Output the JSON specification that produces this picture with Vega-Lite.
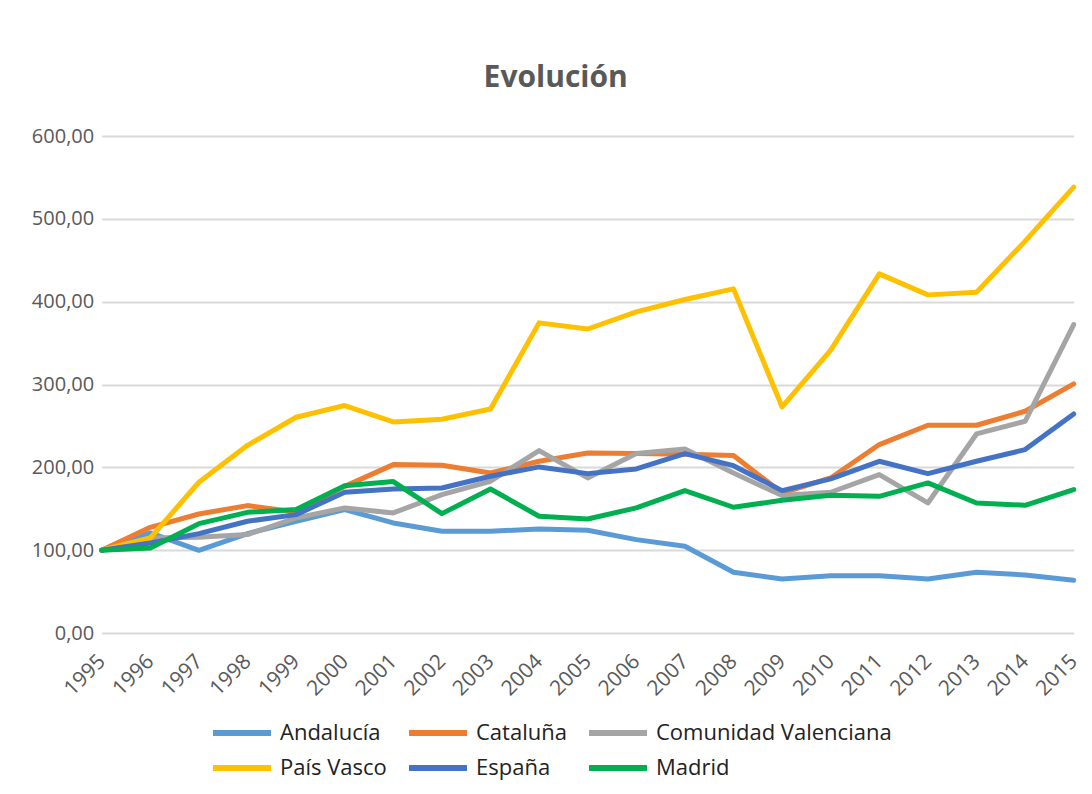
{
  "$schema": "https://vega.github.io/schema/vega-lite/v6.json",
  "width": 972,
  "height": 497,
  "autosize": {"type": "none"},
  "padding": {"left": 101.7, "top": 136, "right": 18.3, "bottom": 161},
  "background": "white",
  "config": {"view": {"stroke": null}, "font": "Open Sans"},
  "title": {
    "text": "Evolución",
    "font": "Open Sans",
    "fontSize": 30,
    "fontWeight": "bold",
    "color": "#595959",
    "anchor": "middle",
    "frame": "group",
    "dx": -32,
    "offset": 33
  },
  "data": {
    "values": [
      {"year": "1995", "serie": "Andalucía", "value": 100},
      {"year": "1996", "serie": "Andalucía", "value": 120.8},
      {"year": "1997", "serie": "Andalucía", "value": 99.8},
      {"year": "1998", "serie": "Andalucía", "value": 120},
      {"year": "1999", "serie": "Andalucía", "value": 134.9},
      {"year": "2000", "serie": "Andalucía", "value": 149},
      {"year": "2001", "serie": "Andalucía", "value": 132.9},
      {"year": "2002", "serie": "Andalucía", "value": 122.8},
      {"year": "2003", "serie": "Andalucía", "value": 122.8},
      {"year": "2004", "serie": "Andalucía", "value": 125.6},
      {"year": "2005", "serie": "Andalucía", "value": 124},
      {"year": "2006", "serie": "Andalucía", "value": 112.7},
      {"year": "2007", "serie": "Andalucía", "value": 104.7},
      {"year": "2008", "serie": "Andalucía", "value": 73.3},
      {"year": "2009", "serie": "Andalucía", "value": 65.2},
      {"year": "2010", "serie": "Andalucía", "value": 69.2},
      {"year": "2011", "serie": "Andalucía", "value": 69.2},
      {"year": "2012", "serie": "Andalucía", "value": 65.2},
      {"year": "2013", "serie": "Andalucía", "value": 73.3},
      {"year": "2014", "serie": "Andalucía", "value": 70},
      {"year": "2015", "serie": "Andalucía", "value": 63.6},
      {"year": "1995", "serie": "Cataluña", "value": 100},
      {"year": "1996", "serie": "Cataluña", "value": 127.6},
      {"year": "1997", "serie": "Cataluña", "value": 143.7},
      {"year": "1998", "serie": "Cataluña", "value": 153.8},
      {"year": "1999", "serie": "Cataluña", "value": 146},
      {"year": "2000", "serie": "Cataluña", "value": 177},
      {"year": "2001", "serie": "Cataluña", "value": 203.3},
      {"year": "2002", "serie": "Cataluña", "value": 202.5},
      {"year": "2003", "serie": "Cataluña", "value": 193.2},
      {"year": "2004", "serie": "Cataluña", "value": 207.3},
      {"year": "2005", "serie": "Cataluña", "value": 217.4},
      {"year": "2006", "serie": "Cataluña", "value": 216.6},
      {"year": "2007", "serie": "Cataluña", "value": 215.8},
      {"year": "2008", "serie": "Cataluña", "value": 214.2},
      {"year": "2009", "serie": "Cataluña", "value": 169},
      {"year": "2010", "serie": "Cataluña", "value": 187.2},
      {"year": "2011", "serie": "Cataluña", "value": 227.5},
      {"year": "2012", "serie": "Cataluña", "value": 250.8},
      {"year": "2013", "serie": "Cataluña", "value": 250.8},
      {"year": "2014", "serie": "Cataluña", "value": 267.7},
      {"year": "2015", "serie": "Cataluña", "value": 300.7},
      {"year": "1995", "serie": "Comunidad Valenciana", "value": 100},
      {"year": "1996", "serie": "Comunidad Valenciana", "value": 114.7},
      {"year": "1997", "serie": "Comunidad Valenciana", "value": 115.5},
      {"year": "1998", "serie": "Comunidad Valenciana", "value": 118.8},
      {"year": "1999", "serie": "Comunidad Valenciana", "value": 138.9},
      {"year": "2000", "serie": "Comunidad Valenciana", "value": 151},
      {"year": "2001", "serie": "Comunidad Valenciana", "value": 145},
      {"year": "2002", "serie": "Comunidad Valenciana", "value": 167},
      {"year": "2003", "serie": "Comunidad Valenciana", "value": 183.2},
      {"year": "2004", "serie": "Comunidad Valenciana", "value": 220.2},
      {"year": "2005", "serie": "Comunidad Valenciana", "value": 187.2},
      {"year": "2006", "serie": "Comunidad Valenciana", "value": 216.6},
      {"year": "2007", "serie": "Comunidad Valenciana", "value": 222.2},
      {"year": "2008", "serie": "Comunidad Valenciana", "value": 193.2},
      {"year": "2009", "serie": "Comunidad Valenciana", "value": 165.9},
      {"year": "2010", "serie": "Comunidad Valenciana", "value": 169.9},
      {"year": "2011", "serie": "Comunidad Valenciana", "value": 191.2},
      {"year": "2012", "serie": "Comunidad Valenciana", "value": 157},
      {"year": "2013", "serie": "Comunidad Valenciana", "value": 240.3},
      {"year": "2014", "serie": "Comunidad Valenciana", "value": 255.6},
      {"year": "2015", "serie": "Comunidad Valenciana", "value": 372.4},
      {"year": "1995", "serie": "País Vasco", "value": 100},
      {"year": "1996", "serie": "País Vasco", "value": 114.7},
      {"year": "1997", "serie": "País Vasco", "value": 182},
      {"year": "1998", "serie": "País Vasco", "value": 226.6},
      {"year": "1999", "serie": "País Vasco", "value": 260.5},
      {"year": "2000", "serie": "País Vasco", "value": 274.6},
      {"year": "2001", "serie": "País Vasco", "value": 254.8},
      {"year": "2002", "serie": "País Vasco", "value": 258},
      {"year": "2003", "serie": "País Vasco", "value": 270.5},
      {"year": "2004", "serie": "País Vasco", "value": 374.4},
      {"year": "2005", "serie": "País Vasco", "value": 367},
      {"year": "2006", "serie": "País Vasco", "value": 387.7},
      {"year": "2007", "serie": "País Vasco", "value": 402.6},
      {"year": "2008", "serie": "País Vasco", "value": 415.5},
      {"year": "2009", "serie": "País Vasco", "value": 272.9},
      {"year": "2010", "serie": "País Vasco", "value": 341.4},
      {"year": "2011", "serie": "País Vasco", "value": 433.6},
      {"year": "2012", "serie": "País Vasco", "value": 408.2},
      {"year": "2013", "serie": "País Vasco", "value": 411.4},
      {"year": "2014", "serie": "País Vasco", "value": 473},
      {"year": "2015", "serie": "País Vasco", "value": 538.2},
      {"year": "1995", "serie": "España", "value": 100},
      {"year": "1996", "serie": "España", "value": 108.7},
      {"year": "1997", "serie": "España", "value": 120},
      {"year": "1998", "serie": "España", "value": 134.9},
      {"year": "1999", "serie": "España", "value": 142.9},
      {"year": "2000", "serie": "España", "value": 169.9},
      {"year": "2001", "serie": "España", "value": 173.9},
      {"year": "2002", "serie": "España", "value": 175.1},
      {"year": "2003", "serie": "España", "value": 189.2},
      {"year": "2004", "serie": "España", "value": 200.5},
      {"year": "2005", "serie": "España", "value": 192.4},
      {"year": "2006", "serie": "España", "value": 198},
      {"year": "2007", "serie": "España", "value": 216.6},
      {"year": "2008", "serie": "España", "value": 202},
      {"year": "2009", "serie": "España", "value": 171.9},
      {"year": "2010", "serie": "España", "value": 186},
      {"year": "2011", "serie": "España", "value": 207.3},
      {"year": "2012", "serie": "España", "value": 192.4},
      {"year": "2013", "serie": "España", "value": 207.3},
      {"year": "2014", "serie": "España", "value": 221.4},
      {"year": "2015", "serie": "España", "value": 264.5},
      {"year": "1995", "serie": "Madrid", "value": 100},
      {"year": "1996", "serie": "Madrid", "value": 102.7},
      {"year": "1997", "serie": "Madrid", "value": 132},
      {"year": "1998", "serie": "Madrid", "value": 145.7},
      {"year": "1999", "serie": "Madrid", "value": 149},
      {"year": "2000", "serie": "Madrid", "value": 177.9},
      {"year": "2001", "serie": "Madrid", "value": 182.8},
      {"year": "2002", "serie": "Madrid", "value": 144.1},
      {"year": "2003", "serie": "Madrid", "value": 173.9},
      {"year": "2004", "serie": "Madrid", "value": 140.9},
      {"year": "2005", "serie": "Madrid", "value": 137.7},
      {"year": "2006", "serie": "Madrid", "value": 151},
      {"year": "2007", "serie": "Madrid", "value": 171.9},
      {"year": "2008", "serie": "Madrid", "value": 151.8},
      {"year": "2009", "serie": "Madrid", "value": 160.2},
      {"year": "2010", "serie": "Madrid", "value": 166.3},
      {"year": "2011", "serie": "Madrid", "value": 165},
      {"year": "2012", "serie": "Madrid", "value": 181.2},
      {"year": "2013", "serie": "Madrid", "value": 157},
      {"year": "2014", "serie": "Madrid", "value": 154.2},
      {"year": "2015", "serie": "Madrid", "value": 173.1}
    ]
  },
  "mark": {"type": "line", "strokeWidth": 5, "strokeJoin": "round", "strokeCap": "round"},
  "encoding": {
    "x": {
      "field": "year",
      "type": "ordinal",
      "scale": {"type": "point", "padding": 0},
      "axis": {
        "title": null,
        "domain": false,
        "ticks": false,
        "labelAngle": -45,
        "labelAlign": "right",
        "labelBaseline": "middle",
        "labelPadding": 25,
        "labelFont": "Open Sans",
        "labelFontSize": 21,
        "labelColor": "#595959",
        "grid": false
      }
    },
    "y": {
      "field": "value",
      "type": "quantitative",
      "scale": {"domain": [0, 600], "nice": false},
      "axis": {
        "title": null,
        "domain": false,
        "ticks": false,
        "values": [0, 100, 200, 300, 400, 500, 600],
        "labelExpr": "replace(format(datum.value, '.2f'), '.', ',')",
        "labelFont": "Open Sans",
        "labelFontSize": 20,
        "labelColor": "#595959",
        "labelPadding": 8,
        "gridColor": "#D9D9D9",
        "gridWidth": 2
      }
    },
    "color": {
      "field": "serie",
      "type": "nominal",
      "scale": {
        "domain": ["Andalucía", "Cataluña", "Comunidad Valenciana", "País Vasco", "España", "Madrid"],
        "range": ["#5B9BD5", "#ED7D31", "#A5A5A5", "#FFC000", "#4472C4", "#00B050"]
      },
      "legend": {
        "title": null,
        "orient": "none",
        "legendX": 127.3,
        "legendY": 584,
        "direction": "horizontal",
        "columns": 3,
        "padding": 0,
        "symbolType": "M-2.9,0H2.9",
        "symbolSize": 400,
        "symbolStrokeWidth": 6,
        "labelFont": "Open Sans",
        "labelFontSize": 22,
        "labelColor": "#222222",
        "labelOffset": 25,
        "labelLimit": 400,
        "columnPadding": 10,
        "rowPadding": 10
      }
    }
  }
}
